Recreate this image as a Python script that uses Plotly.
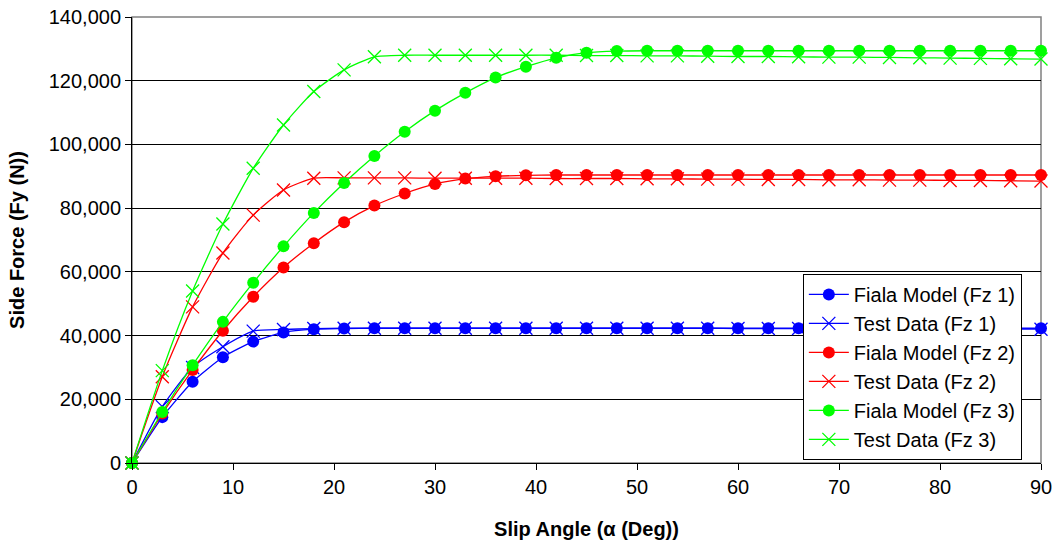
import plotly.graph_objects as go

slip = list(range(0, 91, 3))

fiala_fz1 = [0, 14400, 25500, 33200, 38100, 41000, 42000, 42200, 42300, 42300, 42300, 42300,
             42300, 42300, 42300, 42300, 42300, 42300, 42300, 42300, 42300, 42300, 42300,
             42300, 42300, 42300, 42300, 42300, 42300, 42300, 42300]
test_fz1 = [0, 17700, 30000, 36500, 41400, 41900, 42200, 42300, 42300, 42300, 42300, 42300,
            42300, 42300, 42300, 42300, 42300, 42300, 42300, 42300, 42200, 42200, 42200,
            42200, 42200, 42100, 42100, 42100, 42100, 42000, 42000]
fiala_fz2 = [0, 15500, 29200, 41500, 52200, 61400, 69000, 75600, 80800, 84600, 87600, 89300,
             90000, 90300, 90400, 90400, 90400, 90400, 90400, 90400, 90400, 90400, 90400,
             90400, 90400, 90400, 90400, 90400, 90400, 90400, 90400]
test_fz2 = [0, 27100, 49000, 65900, 77800, 85700, 89400, 89500, 89500, 89500, 89400, 89400,
            89400, 89400, 89300, 89300, 89300, 89200, 89200, 89100, 89100, 89000, 89000,
            88900, 88900, 88800, 88800, 88700, 88700, 88600, 88500]
fiala_fz3 = [0, 16000, 30700, 44300, 56600, 68000, 78500, 87900, 96400, 104000, 110600, 116200,
             121000, 124400, 127200, 128800, 129300, 129400, 129400, 129400, 129400, 129400, 129400,
             129400, 129400, 129400, 129400, 129400, 129400, 129400, 129400]
test_fz3 = [0, 29000, 54000, 75000, 92500, 106100, 116600, 123400, 127500, 128000, 128000, 128000,
            128000, 128000, 128000, 127900, 127900, 127800, 127800, 127700, 127600, 127600, 127500,
            127400, 127400, 127300, 127200, 127100, 127000, 126900, 126800]

series = [
    ("Fiala Model (Fz 1)", fiala_fz1, "#0000FF", "circle"),
    ("Test Data (Fz 1)", test_fz1, "#0000FF", "x-thin"),
    ("Fiala Model (Fz 2)", fiala_fz2, "#FF0000", "circle"),
    ("Test Data (Fz 2)", test_fz2, "#FF0000", "x-thin"),
    ("Fiala Model (Fz 3)", fiala_fz3, "#00FF00", "circle"),
    ("Test Data (Fz 3)", test_fz3, "#00FF00", "x-thin"),
]

fig = go.Figure()
for name, vals, color, sym in series:
    if sym == "circle":
        marker = dict(symbol="circle", size=12, color=color, line=dict(width=0))
    else:
        marker = dict(symbol="x-thin", size=13, color=color, line=dict(width=1.3, color=color))
    fig.add_trace(go.Scatter(
        x=slip, y=vals, name=name, mode="lines+markers",
        line=dict(color=color, width=1.3, shape="spline", smoothing=0.6),
        marker=marker, cliponaxis=False,
    ))

font_family = "Liberation Sans, Arial, sans-serif"

fig.update_layout(
    width=1056, height=548,
    margin=dict(l=132, r=15, t=17, b=85),
    paper_bgcolor="white", plot_bgcolor="white",
    font=dict(family=font_family, size=20, color="black"),
    showlegend=True,
    legend=dict(
        x=0.738, y=0.424, xanchor="left", yanchor="top",
        bgcolor="white", bordercolor="black", borderwidth=1,
        font=dict(family=font_family, size=20, color="black"),
        tracegroupgap=0, itemwidth=40,
    ),
    xaxis=dict(
        range=[0, 90], tickmode="array", tickvals=list(range(0, 91, 10)),
        showgrid=False, zeroline=False,
        showline=True, linecolor="black", linewidth=1,
        ticks="outside", ticklen=6, tickcolor="black",
        tickfont=dict(size=20),
        title=dict(text="<b>Slip Angle (α (Deg))</b>", font=dict(size=20), standoff=24),
        automargin=False,
    ),
    yaxis=dict(
        range=[0, 140000], tickmode="array", tickvals=list(range(0, 140001, 20000)),
        tickformat=",", showgrid=True, gridcolor="black", gridwidth=1,
        zeroline=False, showline=True, linecolor="black", linewidth=1,
        ticks="outside", ticklen=6, tickcolor="black",
        tickfont=dict(size=20),
        title=dict(text="<b>Side Force (Fy (N))</b>", font=dict(size=20), standoff=18),
        automargin=False,
    ),
    shapes=[dict(type="rect", xref="paper", yref="paper", x0=0, y0=0, x1=1, y1=1,
                 line=dict(color="#808080", width=1.5), layer="below")],
)

fig.write_html("out.html")
